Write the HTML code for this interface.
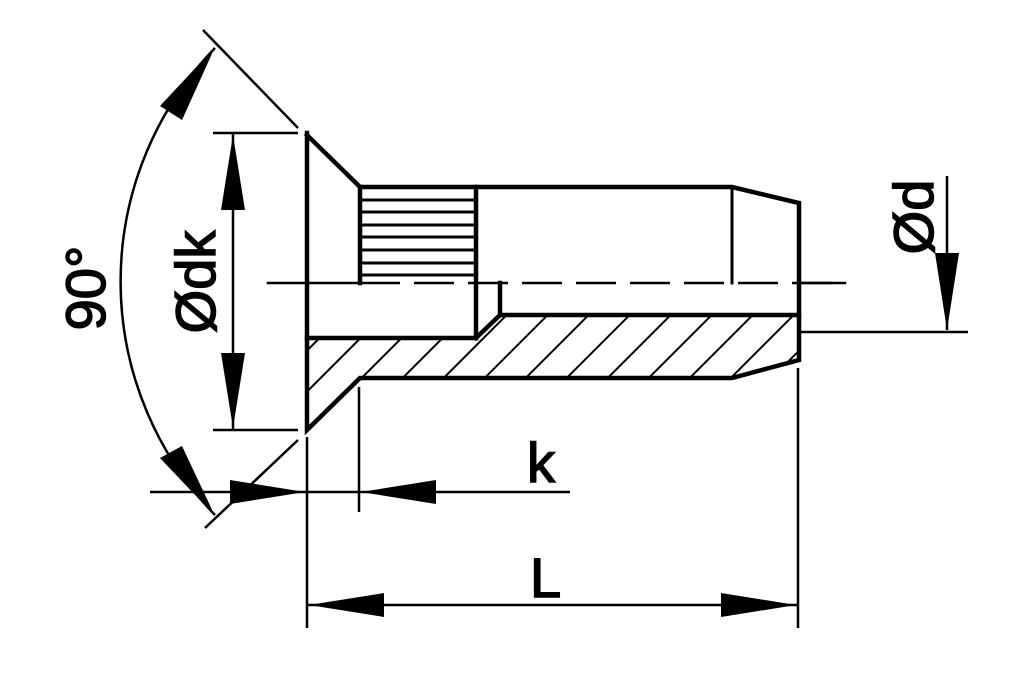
<!DOCTYPE html>
<html><head><style>html,body{margin:0;padding:0;background:#fff}svg{display:block}</style></head>
<body>
<svg width="1024" height="687" viewBox="0 0 1024 687" xmlns="http://www.w3.org/2000/svg">
<defs>
<pattern id="h" patternUnits="userSpaceOnUse" width="29" height="29" patternTransform="rotate(45)">
<line x1="0" y1="0" x2="0" y2="29" stroke="#000" stroke-width="4"/>
</pattern>
<clipPath id="c"><polygon points="307,338 476,338 500,315 799,315 799,360 732,378 360,378 307,430"/></clipPath>
</defs>
<g stroke="#000" fill="none" stroke-linecap="square">
<rect x="300" y="300" width="510" height="140" fill="url(#h)" clip-path="url(#c)" stroke="none"/>
<g stroke-width="4.5">
<polyline points="307,133 307,430 360,378 732,378 799,360 799,203 732,187 360,187 307,135"/>
<line x1="360" y1="187" x2="360" y2="283"/>
<line x1="476" y1="187" x2="476" y2="338"/>
<line x1="307" y1="338" x2="476" y2="338"/>
<polyline points="476,338 500,315 799,315"/>
<line x1="500" y1="283" x2="500" y2="315"/>
</g>
<line x1="732" y1="187" x2="732" y2="283" stroke-width="3"/>
<g stroke-width="3">
<line x1="360" y1="200" x2="476" y2="200"/><line x1="360" y1="212" x2="476" y2="212"/>
<line x1="360" y1="225" x2="476" y2="225"/><line x1="360" y1="237" x2="476" y2="237"/>
<line x1="360" y1="250" x2="476" y2="250"/><line x1="360" y1="263" x2="476" y2="263"/>
<line x1="360" y1="275" x2="476" y2="275"/>
</g>
<line x1="268" y1="283" x2="360" y2="283" stroke-width="2.5"/>
<line x1="360" y1="283" x2="845" y2="283" stroke-width="2.5" stroke-dasharray="40,14" stroke-linecap="butt"/>
<line x1="799" y1="283" x2="845" y2="283" stroke-width="2.5"/>
<g stroke-width="2.5" stroke-linecap="butt">
<line x1="307" y1="437" x2="307" y2="628"/>
<line x1="359" y1="387" x2="359" y2="512"/>
<line x1="798" y1="368" x2="798" y2="628"/>
<line x1="213" y1="133" x2="298" y2="133"/>
<line x1="213" y1="430" x2="298" y2="430"/>
<line x1="799" y1="332" x2="968" y2="332"/>
<line x1="203" y1="30" x2="298" y2="128"/>
<line x1="298" y1="440" x2="205" y2="528"/>
<line x1="233" y1="133" x2="233" y2="430"/>
<line x1="150" y1="492" x2="570" y2="492"/>
<line x1="307" y1="605" x2="798" y2="605"/>
<line x1="947" y1="176" x2="947" y2="330"/>
<path d="M215,48 A336,336 0 0 0 215,515"/>
</g>
</g>
<g fill="#000">
<polygon points="233,135 221,210 245,210"/>
<polygon points="233,428 221,353 245,353"/>
<polygon points="305,492 230,480 230,504"/>
<polygon points="361,492 436,480 436,504"/>
<polygon points="309,605 384,593 384,617"/>
<polygon points="796,605 721,593 721,617"/>
<polygon points="947,330 935,253 959,253"/>
<polygon points="215,47 182,120 160,106"/>
<polygon points="215,516 160,458 182,446"/>
</g>
<g font-family="Liberation Sans, Arial, sans-serif" font-size="56" fill="#000" stroke="#000" stroke-width="1.5">
<text x="527" y="482">k</text>
<text x="530" y="597">L</text>
<text transform="translate(215,282) rotate(-90)" text-anchor="middle">Ødk</text>
<text transform="translate(105,288) rotate(-90)" text-anchor="middle">90°</text>
<text transform="translate(933,217) rotate(-90)" text-anchor="middle">Ød</text>
</g>
</svg>
</body></html>
